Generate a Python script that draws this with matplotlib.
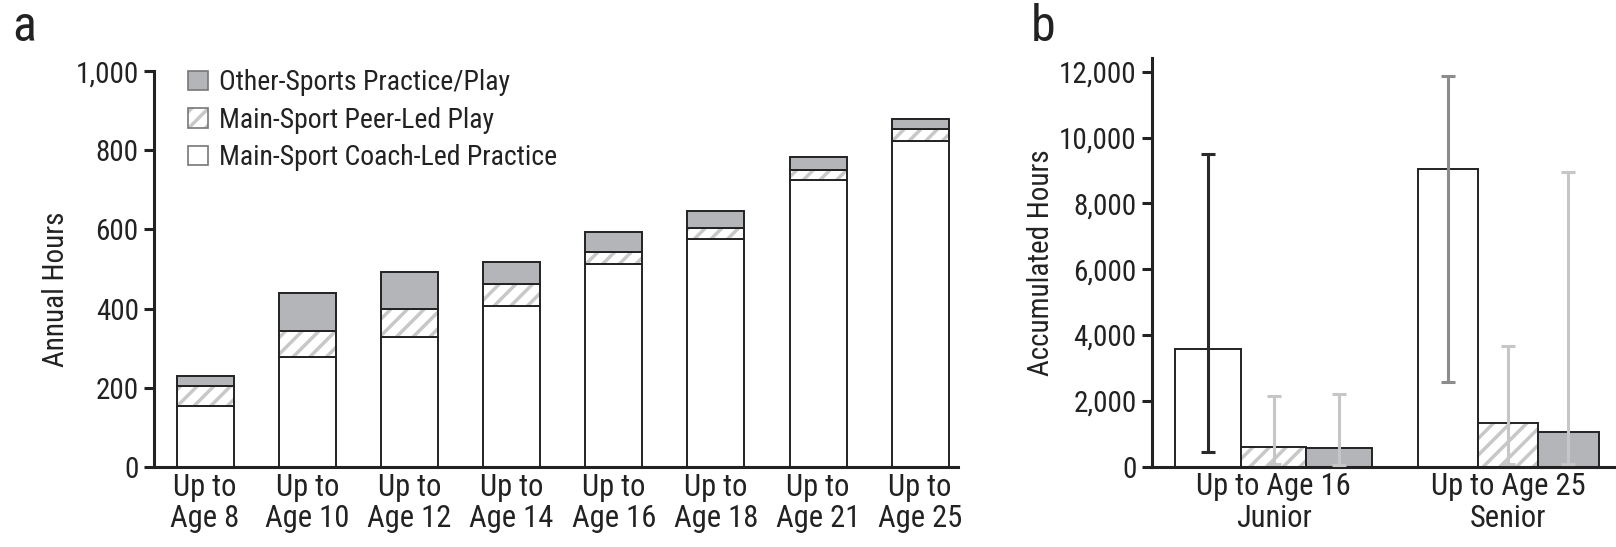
import matplotlib.pyplot as plt
import numpy as np
from matplotlib import font_manager
from matplotlib.legend_handler import HandlerTuple
from matplotlib.patches import Patch
from matplotlib.ticker import FuncFormatter, MultipleLocator

# Prefer a condensed grotesque; fall back to DejaVu Sans.
_installed = {f.name for f in font_manager.fontManager.ttflist}
_narrow = [n for n in ("Roboto Condensed", "Archivo Narrow", "Liberation Sans Narrow",
                       "Fira Sans Condensed", "Pragati Narrow") if n in _installed]
plt.rcParams["font.family"] = _narrow[:1] + ["DejaVu Sans"]
plt.rcParams["hatch.linewidth"] = 2.5

# Panel a: annual hours per activity, by age band
AGE_BANDS = ["Up to\nAge 8", "Up to\nAge 10", "Up to\nAge 12", "Up to\nAge 14",
             "Up to\nAge 16", "Up to\nAge 18", "Up to\nAge 21", "Up to\nAge 25"]
COACH_LED = [154, 277, 329, 407, 513, 576, 725, 824]
PEER_LED = [51, 67, 69, 54, 31, 27, 26, 30]
OTHER_SPORTS = [24, 95, 94, 56, 49, 43, 31, 24]

# Panel b: accumulated hours (mean, lower and upper whisker) per career stage
STAGES = ["Up to Age 16\nJunior", "Up to Age 25\nSenior"]
ACC_COACH = [3570, 9041]
ACC_COACH_LOW = [456, 2584]
ACC_COACH_HIGH = [9506, 11877]
ACC_PEER = [608, 1319]
ACC_PEER_LOW = [80, 80]
ACC_PEER_HIGH = [2149, 3678]
ACC_OTHER = [578, 1055]
ACC_OTHER_LOW = [50, 80]
ACC_OTHER_HIGH = [2210, 8950]

LEGEND_LABELS = ["Other-Sports Practice/Play", "Main-Sport Peer-Led Play",
                 "Main-Sport Coach-Led Practice"]

INK = "#222222"
GRAY_FILL = "#b4b5b8"
HATCH_GRAY = "#c8c8c8"
EDGE_LW = 1.4
FS = 21
FS_X = 22


def hatched_bar(ax, x, h, width, bottom=0):
    """White bar with light-gray diagonal stripes and a dark outline."""
    ax.bar(x, h, width, bottom=bottom, color="white", edgecolor=HATCH_GRAY,
           hatch="//", linewidth=0)
    ax.bar(x, h, width, bottom=bottom, fill=False, edgecolor=INK,
           linewidth=EDGE_LW)


def style_axes(ax):
    for side in ("top", "right"):
        ax.spines[side].set_visible(False)
    for side in ("left", "bottom"):
        ax.spines[side].set_linewidth(2.2)
        ax.spines[side].set_color(INK)
    ax.tick_params(axis="y", direction="out", length=7, width=2.2, color=INK,
                   labelsize=FS, labelcolor=INK, pad=4)
    ax.tick_params(axis="x", length=0, labelsize=FS_X, labelcolor=INK, pad=4)


thousands = FuncFormatter(lambda v, _: f"{int(v):,}")

fig = plt.figure(figsize=(16.16, 5.47), dpi=100)

# ---- panel a: stacked annual hours ----
ax_a = fig.add_axes([0.0953, 0.1463, 0.4975, 0.7237])
x = np.arange(len(AGE_BANDS))
w = 0.558
coach = np.array(COACH_LED)
peer = np.array(PEER_LED)
other = np.array(OTHER_SPORTS)
ax_a.bar(x, coach, w, color="white", edgecolor=INK, linewidth=EDGE_LW)
hatched_bar(ax_a, x, peer, w, bottom=coach)
ax_a.bar(x, other, w, bottom=coach + peer, color=GRAY_FILL, edgecolor=INK,
         linewidth=EDGE_LW)

ax_a.set_xlim(-0.5, 7.37)
ax_a.set_ylim(0, 1000)
ax_a.yaxis.set_major_locator(MultipleLocator(200))
ax_a.yaxis.set_major_formatter(thousands)
ax_a.set_xticks(x)
ax_a.set_xticklabels(AGE_BANDS, linespacing=1.1)
style_axes(ax_a)
ax_a.set_ylabel("Annual Hours", fontsize=FS, color=INK)
ax_a.yaxis.set_label_coords(-0.105, 0.45)

legend_edge = "#777777"
handles = [
    Patch(facecolor=GRAY_FILL, edgecolor=legend_edge, linewidth=1.2),
    (Patch(facecolor="white", edgecolor=HATCH_GRAY, hatch="//", linewidth=0),
     Patch(fill=False, edgecolor=legend_edge, linewidth=1.2)),
    Patch(facecolor="white", edgecolor=legend_edge, linewidth=1.2),
]
ax_a.legend(handles, LEGEND_LABELS, loc="upper left",
            bbox_to_anchor=(0.042, 1.005), frameon=False, fontsize=20,
            handlelength=0.72, handleheight=0.72, handletextpad=0.4,
            labelspacing=0.38, borderpad=0, borderaxespad=0,
            handler_map={tuple: HandlerTuple(ndivide=1, pad=0)},
            labelcolor=INK)

# ---- panel b: accumulated hours by career stage ----
ax_b = fig.add_axes([0.7127, 0.1468, 0.2873, 0.7472])
stage_x = np.arange(len(STAGES))
bar_widths = [0.28, 0.257]
err_colors = [["#2a2a2a", "#c6c6c6", "#c6c6c6"],
              ["#8c8c8c", "#c6c6c6", "#c6c6c6"]]
series = [
    (ACC_COACH, ACC_COACH_LOW, ACC_COACH_HIGH),
    (ACC_PEER, ACC_PEER_LOW, ACC_PEER_HIGH),
    (ACC_OTHER, ACC_OTHER_LOW, ACC_OTHER_HIGH),
]
for i, sx in enumerate(stage_x):
    bw = bar_widths[i]
    for k, (mean, low, high) in enumerate(series):
        pos = sx + (k - 1) * bw
        if k == 0:
            ax_b.bar(pos, mean[i], bw, color="white", edgecolor=INK,
                     linewidth=EDGE_LW)
        elif k == 1:
            hatched_bar(ax_b, pos, mean[i], bw)
        else:
            ax_b.bar(pos, mean[i], bw, color=GRAY_FILL, edgecolor=INK,
                     linewidth=EDGE_LW)
    for k, (mean, low, high) in enumerate(series):
        pos = sx + (k - 1) * bw
        ax_b.errorbar(pos, mean[i],
                      yerr=[[mean[i] - low[i]], [high[i] - mean[i]]],
                      fmt="none", ecolor=err_colors[i][k], elinewidth=2.2,
                      capsize=5, capthick=2.2, zorder=3)

ax_b.set_xlim(-0.52, 1.46)
ax_b.set_ylim(0, 12420)
ax_b.yaxis.set_major_locator(MultipleLocator(2000))
ax_b.yaxis.set_major_formatter(thousands)
ax_b.set_xticks(stage_x)
ax_b.set_xticklabels(STAGES, linespacing=1.1)
style_axes(ax_b)
ax_b.set_ylabel("Accumulated Hours", fontsize=FS, color=INK)
ax_b.yaxis.set_label_coords(-0.208, 0.5)

fig.text(12 / 1616, 1 - 41 / 547, "a", fontsize=36, color=INK, va="baseline")
fig.text(1031 / 1616, 1 - 41 / 547, "b", fontsize=36, color=INK, va="baseline")

fig.savefig("out.png", dpi=100)
